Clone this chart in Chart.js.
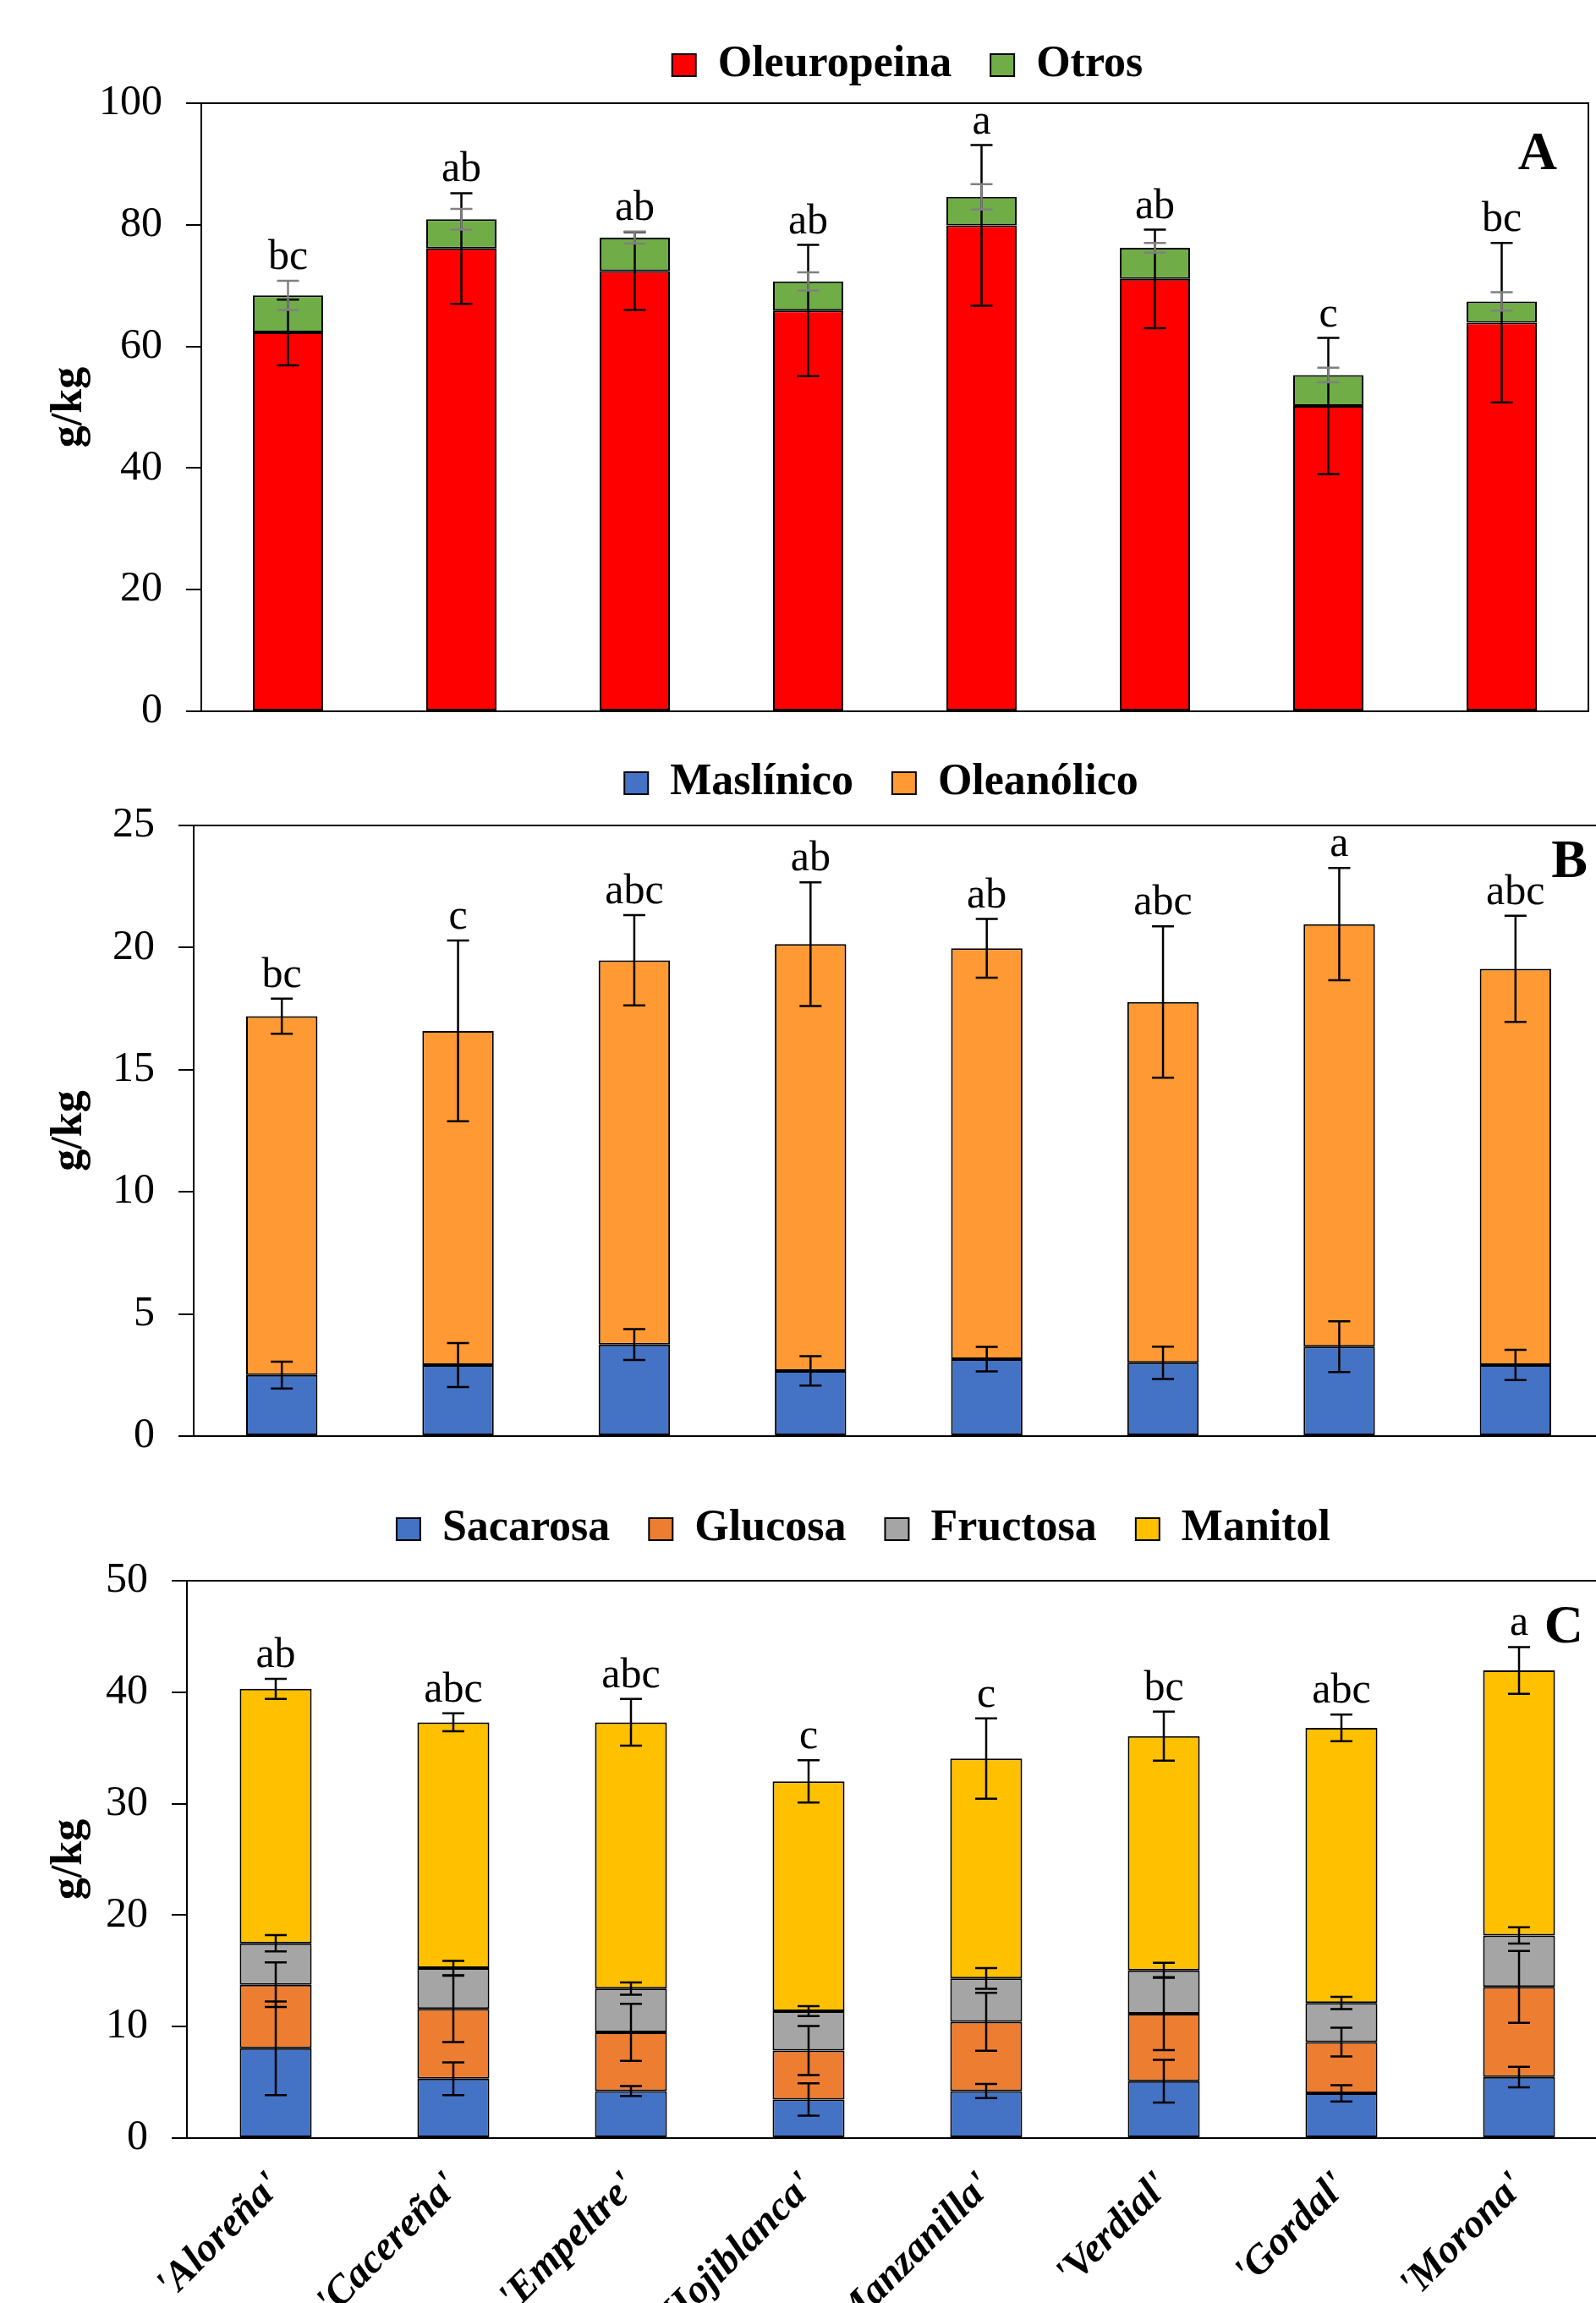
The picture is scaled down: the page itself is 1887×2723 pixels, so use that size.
<!DOCTYPE html>
<html>
<head>
<meta charset="utf-8">
<script src="https://cdn.jsdelivr.net/npm/chart.js@4.4.1/dist/chart.umd.min.js"></script>
<style>
  html, body { margin: 0; padding: 0; background: #fff; overflow: hidden; width: 1887px; height: 2723px; }
  canvas { position: absolute; left: 0; }
</style>
</head>
<body>
<canvas id="chartA" width="1880" height="899" style="top:0px"></canvas>
<canvas id="chartB" width="1897" height="907" style="top:849px"></canvas>
<canvas id="chartC" width="1902" height="992" style="top:1731px"></canvas>
<script>
const cultivares = ["'Aloreña'", "'Cacereña'", "'Empeltre'", "'Hojiblanca'", "'Manzanilla'", "'Verdial'", "'Gordal'", "'Morona'"];

// A - fenoles
const oleuropeina = [62.3, 76.1, 72.4, 65.9, 79.9, 71.1, 50.2, 63.9];
const otros = [6.1, 4.8, 5.5, 4.8, 4.7, 5.1, 5.1, 3.5];
const errOleuropeina = [5.4, 9.1, 6.4, 10.8, 13.2, 8.1, 11.2, 13.1];
const errOtros = [2.4, 1.7, 1.0, 1.5, 2.1, 0.8, 1.2, 1.5];
const letrasA = ['bc', 'ab', 'ab', 'ab', 'a', 'ab', 'c', 'bc'];

// B - triterpenos
const maslinico = [2.50, 2.91, 3.75, 2.67, 3.15, 3.00, 3.66, 2.91];
const oleanolico = [14.69, 13.68, 15.73, 17.47, 16.82, 14.77, 17.30, 16.22];
const errMaslinico = [0.55, 0.90, 0.63, 0.60, 0.50, 0.66, 1.04, 0.62];
const errOleanolico = [0.72, 3.70, 1.85, 2.53, 1.20, 3.10, 2.30, 2.17];
const letrasB = ['bc', 'c', 'abc', 'ab', 'ab', 'abc', 'a', 'abc'];

// C - azucares
const sacarosa = [8.06, 5.33, 4.22, 3.46, 4.22, 5.10, 4.02, 5.48];
const glucosa = [5.70, 6.26, 5.27, 4.39, 6.21, 6.06, 4.59, 8.08];
const fructosa = [3.71, 3.66, 3.92, 3.54, 3.89, 3.89, 3.51, 4.62];
const manitol = [22.83, 22.05, 23.89, 20.61, 19.73, 21.00, 24.68, 23.77];
const errSacarosa = [4.20, 1.47, 0.44, 1.45, 0.63, 1.92, 0.73, 0.92];
const errGlucosa = [2.00, 2.98, 2.56, 2.20, 2.60, 3.27, 1.29, 3.22];
const errFructosa = [0.73, 0.65, 0.55, 0.44, 0.93, 0.68, 0.55, 0.73];
const errManitol = [0.90, 0.80, 2.10, 1.90, 3.60, 2.20, 1.20, 2.10];
const letrasC = ['ab', 'abc', 'abc', 'c', 'c', 'bc', 'abc', 'a'];

const serif = '"Liberation Serif", "Times New Roman", serif';

// error bars, letters, panel label and plot frame
const barExtras = {
  id: 'barExtras',
  afterDatasetsDraw(chart, args, opts) {
    const ctx = chart.ctx;
    const y = chart.scales.y;
    const area = chart.chartArea;
    const n = chart.data.labels.length;
    const tops = new Array(n).fill(0);
    const peaks = new Array(n).fill(0);
    const xs = [];
    const cap = 13;
    ctx.save();
    chart.data.datasets.forEach((ds, i) => {
      const meta = chart.getDatasetMeta(i);
      ctx.strokeStyle = opts.errColors[i];
      ctx.lineWidth = 2.5;
      ds.data.forEach((v, j) => {
        tops[j] += v;
        const e = opts.errors[i][j];
        const x = meta.data[j].x;
        xs[j] = x;
        const yHi = y.getPixelForValue(tops[j] + e);
        const yLo = y.getPixelForValue(tops[j] - e);
        ctx.beginPath();
        ctx.moveTo(x, yHi); ctx.lineTo(x, yLo);
        ctx.moveTo(x - cap, yHi); ctx.lineTo(x + cap, yHi);
        ctx.moveTo(x - cap, yLo); ctx.lineTo(x + cap, yLo);
        ctx.stroke();
        peaks[j] = Math.max(peaks[j], tops[j] + e);
      });
    });
    // frame
    ctx.strokeStyle = '#000';
    ctx.lineWidth = 2;
    ctx.strokeRect(area.left, area.top, area.right - area.left, area.bottom - area.top);
    // letters
    ctx.fillStyle = '#000';
    ctx.font = '50px ' + serif;
    ctx.textAlign = 'center';
    ctx.textBaseline = 'alphabetic';
    opts.letters.forEach((t, j) => {
      ctx.fillText(t, xs[j], y.getPixelForValue(peaks[j]) - 14);
    });
    // panel label
    ctx.font = 'bold 64px ' + serif;
    ctx.textAlign = 'right';
    ctx.fillText(opts.panel, opts.panelRight, area.top + opts.panelDrop);
    ctx.restore();
  }
};

// moves the legend row to where it sits in the figure
const legendShift = {
  id: 'legendShift',
  afterLayout(chart, args, opts) {
    const l = chart.legend;
    const dx = opts.center - (l.left + l.right) / 2;
    l.left += dx;
    l.right += dx;
  }
};

function makeChart(id, cfg) {
  const datasets = cfg.series.map(s => ({
    label: s.label,
    data: s.data,
    backgroundColor: s.color,
    borderColor: '#000',
    borderWidth: 2,
    borderSkipped: false,
    barPercentage: 0.405,
    categoryPercentage: 1.0
  }));
  return new Chart(document.getElementById(id), {
    type: 'bar',
    data: { labels: cultivares, datasets: datasets },
    options: {
      responsive: false,
      animation: false,
      layout: { padding: { left: 47, right: cfg.padRight, top: 5, bottom: 0 } },
      plugins: {
        legend: {
          position: 'top',
          labels: {
            font: { family: serif, size: 52, weight: 'bold' },
            color: '#000',
            boxWidth: 28,
            boxHeight: 26,
            padding: 46
          }
        },
        tooltip: { enabled: false },
        barExtras: {
          errors: cfg.series.map(s => s.err),
          errColors: cfg.series.map(s => s.errColor || '#000'),
          letters: cfg.letters,
          panel: cfg.panel,
          panelRight: cfg.panelRight,
          panelDrop: cfg.panelDrop
        },
        legendShift: { center: cfg.legendCenter }
      },
      scales: {
        x: {
          stacked: true,
          grid: { display: false },
          border: { color: '#000', width: 2 },
          ticks: {
            display: cfg.showLabels,
            autoSkip: false,
            minRotation: 45,
            maxRotation: 45,
            padding: 22,
            color: '#000',
            font: { family: serif, size: 48, weight: 'bold', style: 'italic' }
          },
          afterFit: s => { s.height = cfg.xHeight; }
        },
        top: {
          type: 'category',
          position: 'top',
          ticks: { display: false },
          grid: { display: false },
          border: { display: false },
          afterFit: s => { s.height = cfg.topGap; }
        },
        y: {
          stacked: true,
          min: 0,
          max: cfg.max,
          ticks: { stepSize: cfg.step, padding: 28, color: '#000', font: { family: serif, size: 50 } },
          grid: { drawOnChartArea: false, tickLength: 18, color: '#000', lineWidth: 2 },
          border: { color: '#000', width: 2 },
          title: {
            display: true,
            text: 'g/kg',
            color: '#000',
            font: { family: serif, size: 52, weight: 'bold' },
            padding: { top: 4, bottom: 0 }
          },
          afterFit: s => { s.width = cfg.yWidth; }
        }
      }
    },
    plugins: [barExtras, legendShift]
  });
}

makeChart('chartA', {
  series: [
    { label: 'Oleuropeina', data: oleuropeina, err: errOleuropeina, color: '#FF0000' },
    { label: 'Otros', data: otros, err: errOtros, color: '#70AD47', errColor: '#808080' }
  ],
  letters: letrasA, panel: 'A', panelRight: 1841, panelDrop: 78,
  max: 100, step: 20, yWidth: 191, padRight: 2, topGap: 9, xHeight: 10,
  showLabels: false, legendCenter: 1073
});

makeChart('chartB', {
  series: [
    { label: 'Maslínico', data: maslinico, err: errMaslinico, color: '#4472C4' },
    { label: 'Oleanólico', data: oleanolico, err: errOleanolico, color: '#FF9933' }
  ],
  letters: letrasB, panel: 'B', panelRight: 1877, panelDrop: 61,
  max: 25, step: 5, yWidth: 182, padRight: 1, topGap: 14, xHeight: 10,
  showLabels: false, legendCenter: 1042
});

makeChart('chartC', {
  series: [
    { label: 'Sacarosa', data: sacarosa, err: errSacarosa, color: '#4472C4' },
    { label: 'Glucosa', data: glucosa, err: errGlucosa, color: '#ED7D31' },
    { label: 'Fructosa', data: fructosa, err: errFructosa, color: '#A5A5A5' },
    { label: 'Manitol', data: manitol, err: errManitol, color: '#FFC000' }
  ],
  letters: letrasC, panel: 'C', panelRight: 1872, panelDrop: 73,
  max: 50, step: 10, yWidth: 174, padRight: 1, topGap: 25, xHeight: 195,
  showLabels: true, legendCenter: 1021
});
</script>
</body>
</html>
